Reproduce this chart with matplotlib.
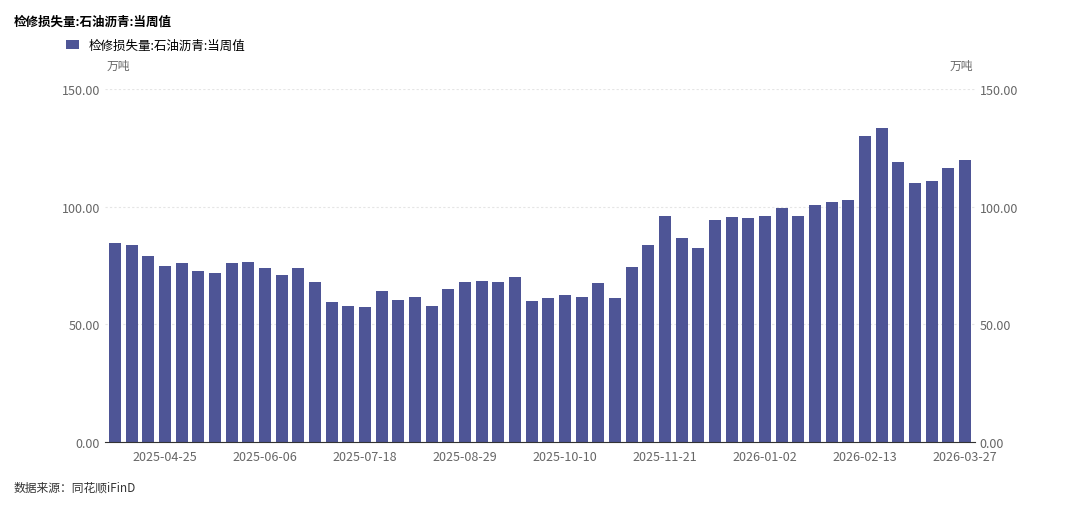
import matplotlib.pyplot as plt
import numpy as np
import pandas as pd

plt.rcParams['font.family'] = ['Noto Sans CJK SC', 'DejaVu Sans']

dates = pd.date_range("2025-04-04", periods=52, freq="7D")
values = [84.5, 83.5, 79, 75, 76, 72.5, 72, 76, 76.5, 74, 71, 74, 68,
          59.5, 58, 57.5, 64, 60.5, 61.5, 58, 65, 68, 68.5, 68, 70,
          60, 61, 62.5, 61.5, 67.5, 61, 74.5, 83.5, 96, 86.5, 82.5,
          94.5, 95.5, 95, 96, 99.5, 96, 100.5, 102, 103, 130, 133.5,
          119, 110, 111, 116.5, 120]
labels = [d.strftime("%Y-%m-%d") for d in dates]
tick_idx = list(range(3, 52, 6))

color = "#4E5596"
grey = "#666666"

fig = plt.figure(figsize=(10.8, 5.1), dpi=100)
ax = fig.add_axes((105 / 1080, 1 - 443 / 510, 870 / 1080, 353 / 510))
x = np.arange(len(values))
ax.bar(x, values, width=0.72, color=color, label="检修损失量:石油沥青:当周值")
ax.set_xlim(-0.6, len(values) - 0.4)
ax.set_ylim(0, 150)
ax.set_yticks([0, 50, 100, 150])
ax.set_yticklabels([f"{v:.2f}" for v in [0, 50, 100, 150]])
ax.set_xticks(tick_idx)
ax.set_xticklabels([labels[i] for i in tick_idx])
ax.grid(axis="y", color="#e5e5e5", linestyle=(0, (2, 2)), linewidth=0.8)
ax.set_axisbelow(True)
for s in ["top", "left", "right"]:
    ax.spines[s].set_visible(False)
ax.spines["bottom"].set_color("#333333")
ax.tick_params(axis="both", colors=grey, labelsize=9, length=0)
ax.tick_params(axis="x", pad=6)

ax2 = ax.twinx()
ax2.set_ylim(0, 150)
ax2.set_yticks([0, 50, 100, 150])
ax2.set_yticklabels([f"{v:.2f}" for v in [0, 50, 100, 150]])
ax2.tick_params(colors=grey, labelsize=9, length=0)
for s in ["top", "left", "right", "bottom"]:
    ax2.spines[s].set_visible(False)

fig.text(14 / 1080, 1 - 22 / 510, "检修损失量:石油沥青:当周值", fontsize=9,
         fontweight="bold", va="center")
fig.legend(loc="center left", bbox_to_anchor=(55 / 1080, 1 - 46 / 510),
           frameon=False, fontsize=9, handlelength=1.0, handleheight=0.7)
fig.text(107 / 1080, 1 - 66 / 510, "万吨", fontsize=8.5, color=grey, va="center")
fig.text(973 / 1080, 1 - 66 / 510, "万吨", fontsize=8.5, color=grey,
         va="center", ha="right")
fig.text(14 / 1080, 1 - 488 / 510, "数据来源：同花顺iFinD", fontsize=8.5,
         color="#333333", va="center")

fig.savefig("out.png", dpi=100)
